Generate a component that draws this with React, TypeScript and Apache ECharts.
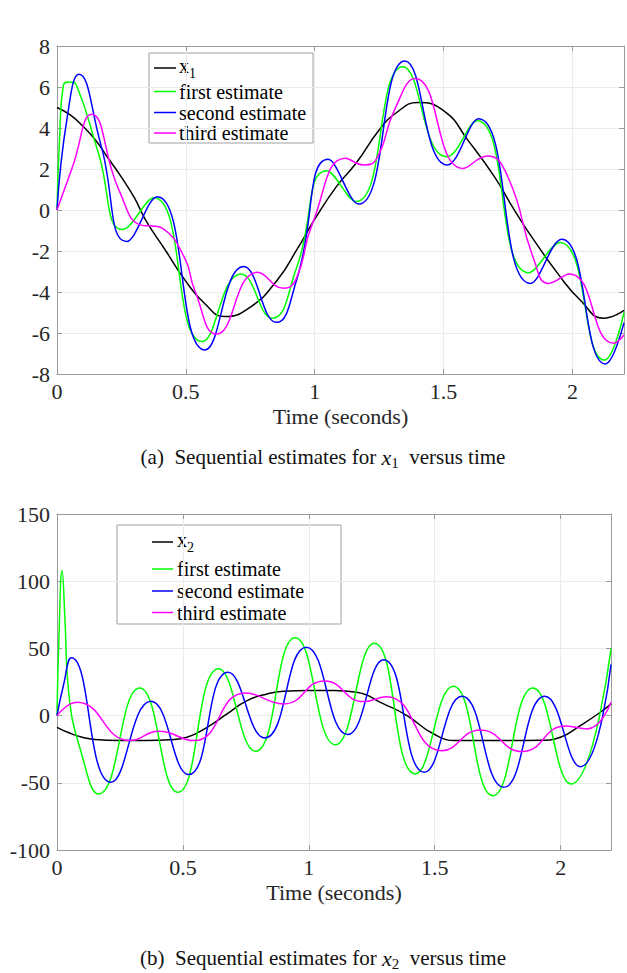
import React, { useEffect, useRef } from "react";
import * as echarts from "echarts";

// ---------- Panel (a): x1 ----------
const tX1 = [0, 0.05, 0.1, 0.15, 0.2, 0.25, 0.3, 0.344, 0.42, 0.496, 0.572, 0.65, 0.752, 0.855, 0.93, 1.0, 1.084, 1.16, 1.25, 1.314, 1.4, 1.505, 1.594, 1.697, 1.76, 1.824, 1.952, 2.03, 2.12, 2.2];
const vX1 = [5.0, 4.65, 4.1, 3.4, 2.5, 1.6, 0.6, -0.49, -1.95, -3.41, -4.55, -5.2, -4.72, -3.41, -1.95, -0.45, 1.14, 2.28, 3.9, 4.72, 5.24, 4.8, 3.41, 1.63, 0.3, -0.98, -3.25, -4.39, -5.28, -4.9];

const tA1 = [0, 0.01, 0.025, 0.05, 0.075, 0.16, 0.255, 0.376, 0.563, 0.714, 0.835, 0.93, 1.046, 1.16, 1.342, 1.512, 1.63, 1.83, 1.952, 2.124, 2.2];
const vA1 = [0, 3.5, 6.1, 6.25, 6.1, 2.8, -0.95, 0.6, -6.42, -3.12, -5.28, -2.8, 1.92, 0.41, 6.99, 2.6, 4.35, -3.06, -1.59, -7.32, -5.0];

const tA2 = [0, 0.04, 0.085, 0.17, 0.27, 0.389, 0.574, 0.724, 0.852, 0.93, 1.052, 1.171, 1.35, 1.514, 1.636, 1.837, 1.958, 2.128, 2.2];
const vA2 = [0, 4.55, 6.62, 3.2, -1.54, 0.65, -6.83, -2.76, -5.48, -3.4, 2.47, 0.29, 7.27, 2.2, 4.45, -3.58, -1.43, -7.51, -5.5];

const tA3 = [0, 0.06, 0.134, 0.24, 0.33, 0.37, 0.41, 0.496, 0.534, 0.619, 0.778, 0.88, 0.93, 0.99, 1.12, 1.19, 1.24, 1.31, 1.39, 1.575, 1.67, 1.75, 1.85, 1.907, 1.99, 2.16, 2.2];
const vA3 = [0, 2.1, 4.67, 0.98, -0.75, -0.78, -0.9, -2.36, -3.9, -6.05, -3.04, -3.82, -3.3, -0.7, 2.52, 2.2, 2.5, 4.9, 6.42, 2.03, 2.63, 1.6, -2.4, -3.58, -3.12, -6.5, -6.1];

// ---------- Panel (b): x2 ----------
const tX2 = [0, 0.05, 0.1, 0.15, 0.25, 0.35, 0.45, 0.516, 0.596, 0.675, 0.755, 0.834, 0.9, 1.0, 1.1, 1.19, 1.297, 1.39, 1.496, 1.589, 1.7, 1.8, 1.92, 1.999, 2.078, 2.158, 2.2];
const vX2 = [-8.7, -13, -16.1, -17.8, -18.6, -18.6, -18, -16.1, -8.7, 1.2, 11.2, 16.1, 18.1, 18.6, 18.6, 17.4, 8.7, 0, -13.7, -18.6, -18.6, -18.6, -18.4, -16.1, -7.4, 2.5, 8.7];

const tB1 = [0, 0.008, 0.02, 0.032, 0.045, 0.1, 0.165, 0.328, 0.48, 0.642, 0.788, 0.946, 1.105, 1.26, 1.423, 1.573, 1.731, 1.89, 2.041, 2.2];
const vB1 = [0, 60, 108, 70, 20, -30, -58.3, 20.6, -57.1, 34.8, -26.6, 57.9, -21.6, 53.9, -43.4, 21.9, -59.6, 20.6, -50.9, 49.6];

const tB2 = [0, 0.025, 0.057, 0.214, 0.373, 0.523, 0.679, 0.825, 0.99, 1.154, 1.297, 1.459, 1.608, 1.774, 1.937, 2.078, 2.2];
const vB2 = [0, 22, 43, -49.6, 10.7, -43.9, 32.3, -16.6, 50.9, -14.1, 41.5, -42.2, 14.4, -53.4, 14.4, -38, 38];

const tB3 = [0, 0.079, 0.291, 0.404, 0.543, 0.748, 0.9, 1.062, 1.218, 1.308, 1.529, 1.681, 1.847, 2.019, 2.105, 2.2];
const vB3 = [0, 9.9, -18.6, -11.7, -18.6, 16.9, 8.7, 25.8, 10.4, 14.1, -26.1, -10.7, -26.8, -7.7, -9.9, 9.9];

const seriesNames = ["x1", "first estimate", "second estimate", "third estimate"];
const seriesNames2 = ["x2", "first estimate", "second estimate", "third estimate"];
const seriesColors = ["#000000", "#00ff00", "#0000ff", "#ff00ff"];
const xAxisTitle = "Time (seconds)";
const captionA = "(a)  Sequential estimates for ";
const captionB = "(b)  Sequential estimates for ";
const captionTail = "  versus time";

const SERIF = "'Liberation Serif', 'Times New Roman', serif";
const AXIS_GRAY = "#9a9a9a";

function zip(t: number[], v: number[]) {
  return t.map((x, i) => [x, v[i]]);
}

function xAxes(grid: number, withName: boolean) {
  const common = {
    gridIndex: grid,
    type: "value",
    min: 0,
    max: 2.2,
    interval: 0.5,
    axisLine: { show: true, onZero: false, lineStyle: { color: AXIS_GRAY, width: 1 } },
    axisTick: { show: true, inside: true, length: 5, lineStyle: { color: AXIS_GRAY } },
  };
  return [
    {
      ...common,
      position: "bottom",
      name: withName ? xAxisTitle : "",
      nameLocation: "middle",
      nameGap: 31,
      nameTextStyle: { fontFamily: SERIF, fontSize: 22, color: "#262626" },
      axisLabel: {
        fontFamily: SERIF,
        fontSize: 22,
        color: "#262626",
        margin: 6,
        formatter: (v: number) => (Math.abs(v * 2 - Math.round(v * 2)) < 1e-9 ? String(v) : ""),
      },
      splitLine: { show: true, lineStyle: { color: "#ebebeb", width: 1 } },
    },
    {
      ...common,
      position: "top",
      axisLabel: { show: false },
      splitLine: { show: false },
    },
  ];
}

function yAxes(grid: number, min: number, max: number, interval: number) {
  const common = {
    gridIndex: grid,
    type: "value",
    min,
    max,
    interval,
    axisLine: { show: true, onZero: false, lineStyle: { color: AXIS_GRAY, width: 1 } },
    axisTick: { show: true, inside: true, length: 5, lineStyle: { color: AXIS_GRAY } },
  };
  return [
    {
      ...common,
      position: "left",
      axisLabel: { fontFamily: SERIF, fontSize: 22, color: "#262626", margin: 7 },
      splitLine: { show: true, lineStyle: { color: "#ebebeb", width: 1 } },
    },
    {
      ...common,
      position: "right",
      axisLabel: { show: false },
      splitLine: { show: false },
    },
  ];
}

function legendGraphic(
  box: { x: number; y: number; w: number; h: number },
  lineX0: number,
  lineX1: number,
  textX: number,
  rows: number[],
  sub: string
) {
  const children: any[] = [
    {
      type: "rect",
      shape: { x: box.x, y: box.y, width: box.w, height: box.h },
      style: { fill: "#ffffff", stroke: "#a0a0a0", lineWidth: 1 },
    },
  ];
  rows.forEach((yc, i) => {
    children.push({
      type: "line",
      shape: { x1: lineX0, y1: yc, x2: lineX1, y2: yc },
      style: { stroke: seriesColors[i], lineWidth: 1.5 },
    });
    if (i === 0) {
      children.push({
        type: "text",
        x: textX,
        y: yc - 12,
        style: {
          text: `{b|x}{s|${sub}}`,
          verticalAlign: "top",
          rich: {
            b: { fontFamily: SERIF, fontSize: 20, lineHeight: 24, verticalAlign: "top", fill: "#000" },
            s: { fontFamily: SERIF, fontSize: 14, lineHeight: 14, verticalAlign: "bottom", fill: "#000" },
          },
        },
      });
    } else {
      children.push({
        type: "text",
        x: textX,
        y: yc,
        style: {
          text: seriesNames[i],
          fontFamily: SERIF,
          fontSize: 20,
          fill: "#000",
          verticalAlign: "middle",
        },
      });
    }
  });
  return { type: "group", z: 100, children };
}

function caption(head: string, sub: string, cx: number, cy: number) {
  return {
    type: "text",
    x: cx,
    y: cy,
    style: {
      text: `{n|${head}}{i|x}{s|${sub}}{n|${captionTail}}`,
      align: "center",
      verticalAlign: "middle",
      rich: {
        n: { fontFamily: SERIF, fontSize: 21, lineHeight: 24, verticalAlign: "top", fill: "#111" },
        i: { fontFamily: SERIF, fontSize: 22, fontStyle: "italic", lineHeight: 24, verticalAlign: "top", fill: "#111" },
        s: { fontFamily: SERIF, fontSize: 15, lineHeight: 15, verticalAlign: "bottom", fill: "#111" },
      },
    },
  };
}

export default function App() {
  const ref = useRef<HTMLDivElement>(null);
  useEffect(() => {
    if (!ref.current) return;
    const chart = echarts.init(ref.current, undefined, { renderer: "svg" });
    const topData = [zip(tX1, vX1), zip(tA1, vA1), zip(tA2, vA2), zip(tA3, vA3)];
    const botData = [zip(tX2, vX2), zip(tB1, vB1), zip(tB2, vB2), zip(tB3, vB3)];
    const series: any[] = [];
    topData.forEach((d, i) =>
      series.push({
        type: "line",
        name: seriesNames[i],
        xAxisIndex: 0,
        yAxisIndex: 0,
        data: d,
        smooth: 0.5,
        showSymbol: false,
        symbol: "none",
        lineStyle: { color: seriesColors[i], width: 1.5 },
        itemStyle: { color: seriesColors[i] },
        z: 2 + i,
      })
    );
    botData.forEach((d, i) =>
      series.push({
        type: "line",
        name: seriesNames2[i],
        xAxisIndex: 2,
        yAxisIndex: 2,
        data: d,
        smooth: 0.5,
        showSymbol: false,
        symbol: "none",
        lineStyle: { color: seriesColors[i], width: 1.5 },
        itemStyle: { color: seriesColors[i] },
        z: 2 + i,
      })
    );
    chart.setOption({
      animation: false,
      backgroundColor: "#ffffff",
      grid: [
        { left: 57, top: 46, width: 575, height: 328, containLabel: false },
        { left: 57, top: 514, width: 554, height: 336, containLabel: false },
      ],
      xAxis: [...xAxes(0, true), ...xAxes(1, true)],
      yAxis: [...yAxes(0, -8, 8, 2), ...yAxes(1, -100, 150, 50)],
      series,
      graphic: [
        legendGraphic({ x: 149, y: 53, w: 164, h: 90 }, 154, 176, 179, [68, 91.5, 112.5, 133], "1"),
        legendGraphic({ x: 117, y: 525, w: 224, h: 99 }, 152, 173, 177, [542, 569, 591, 612.5], "2"),
        caption(captionA, "1", 323, 458),
        caption(captionB, "2", 323, 959),
      ],
    });
    return () => chart.dispose();
  }, []);
  return (
    <div
      ref={ref}
      style={{ position: "fixed", left: 0, top: 0, width: 627, height: 973, background: "#fff" }}
    />
  );
}
